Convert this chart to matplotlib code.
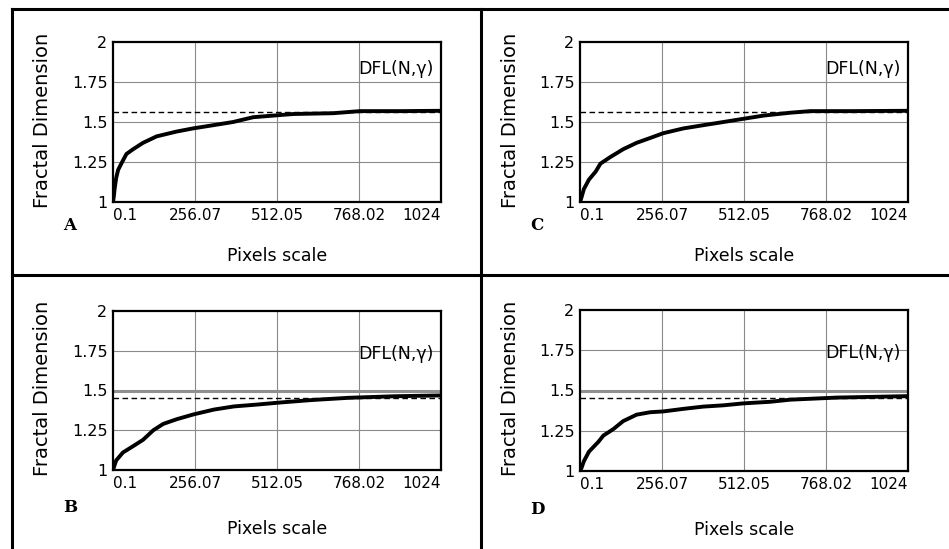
"""Four fractal dimension panels (A, B, C, D) in a framed grid."""
import matplotlib
matplotlib.use("Agg")
import matplotlib.pyplot as plt
from matplotlib import font_manager
from matplotlib.lines import Line2D

W, H = 949, 549

# curve points (pixels scale, fractal dimension)
x_a = [0.1, 3, 5, 10, 16, 26, 42, 63, 94, 136, 198, 250, 313, 375, 438, 500, 563, 688, 771, 900, 1024]
y_a = [1.0, 1.04, 1.08, 1.15, 1.20, 1.24, 1.30, 1.33, 1.37, 1.41, 1.44, 1.46, 1.48, 1.50, 1.53, 1.54, 1.55, 1.555, 1.568, 1.568, 1.57]

x_c = [0.1, 5, 12, 28, 49, 64, 94, 135, 177, 219, 260, 323, 385, 448, 510, 573, 656, 719, 850, 1024]
y_c = [1.0, 1.03, 1.08, 1.14, 1.19, 1.24, 1.28, 1.33, 1.37, 1.40, 1.43, 1.46, 1.48, 1.50, 1.52, 1.54, 1.558, 1.568, 1.568, 1.57]

x_b = [0.1, 5, 10, 31, 63, 94, 126, 157, 200, 252, 315, 378, 441, 525, 620, 735, 882, 1024]
y_b = [1.0, 1.03, 1.06, 1.11, 1.15, 1.19, 1.25, 1.29, 1.32, 1.35, 1.38, 1.40, 1.41, 1.425, 1.44, 1.454, 1.464, 1.469]

x_d = [0.1, 5, 12, 28, 57, 73, 104, 135, 177, 219, 260, 323, 385, 448, 510, 594, 656, 802, 1024]
y_d = [1.0, 1.02, 1.06, 1.12, 1.18, 1.22, 1.26, 1.31, 1.35, 1.365, 1.37, 1.386, 1.40, 1.408, 1.42, 1.43, 1.443, 1.456, 1.465]

dash_level = {"A": 1.565, "C": 1.565, "B": 1.455, "D": 1.455}
gray_level = {"B": 1.5, "D": 1.5}

x_ticks = [0.1, 256.07, 512.05, 768.02, 1024]
x_labels = ["0.1", "256.07", "512.05", "768.02", "1024"]
y_ticks = [1, 1.25, 1.5, 1.75, 2]
y_labels = ["1", "1.25", "1.5", "1.75", "2"]

names = {f.name for f in font_manager.fontManager.ttflist}
narrow = "Liberation Sans Narrow" if "Liberation Sans Narrow" in names else "DejaVu Sans"

fig = plt.figure(figsize=(W / 100, H / 100), dpi=100)
fig.patch.set_facecolor("white")


def px_axes(left, top, right, bottom):
    return fig.add_axes([left / W, 1 - bottom / H, (right - left) / W, (bottom - top) / H])


def fline(xs, ys, lw=2.2):
    fig.add_artist(Line2D([x / W for x in xs], [1 - y / H for y in ys],
                          color="black", lw=lw, transform=fig.transFigure))


panels = [
    ("A", x_a, y_a, (113, 42, 441, 202), 0),
    ("C", x_c, y_c, (580, 42, 908, 202), 0),
    ("B", x_b, y_b, (113, 311, 441, 470), 1),
    ("D", x_d, y_d, (580, 310, 908, 471), 1),
]

for name, xs, ys, box, row in panels:
    ax = px_axes(*box)
    ax.set_xlim(0.1, 1024)
    ax.set_ylim(1, 2)
    for v in x_ticks[1:-1]:
        ax.axvline(v, color="#8a8a8a", lw=0.8, zorder=1)
    for v in y_ticks[1:-1]:
        ax.axhline(v, color="#8a8a8a", lw=0.8, zorder=1)
    if name in gray_level:
        ax.axhline(gray_level[name], color="#909090", lw=2.2, zorder=1)
    ax.axhline(dash_level[name], color="black", lw=1.0, ls=(0, (4, 2.5)), zorder=2)
    ax.plot(xs, ys, color="black", lw=2.8, zorder=3, solid_joinstyle="miter")
    ax.text(1000, 1.83 if row == 0 else 1.73, "DFL(N,\u03b3)",
            fontsize=12.5, family=narrow, va="center", ha="right", zorder=4)

    ax.set_xticks(x_ticks)
    ax.set_xticklabels(x_labels, family=narrow, fontsize=11)
    ax.set_yticks(y_ticks)
    ax.set_yticklabels(y_labels, family=narrow, fontsize=11.5)
    ax.tick_params(length=0, pad=4)
    labs = ax.get_xticklabels()
    labs[0].set_ha("left")
    labs[-1].set_ha("right")
    for s in ax.spines.values():
        s.set_linewidth(1.6)

    left, top, right, bottom = box
    cx = (left + right) / 2
    fig.text(43 / W + (0 if left < 400 else 467 / W), 1 - ((top + bottom) / 2 - 2) / H,
             "Fractal Dimension", rotation=90, ha="center", va="center",
             fontsize=14, family="DejaVu Sans")
    fig.text(cx / W, 1 - (bottom + (54 if row == 0 else 59)) / H, "Pixels scale",
             ha="center", va="center", fontsize=12.5, family=narrow)
    letter_y = bottom + (23 if row == 0 else 38)
    fig.text((left - 43) / W, 1 - letter_y / H, name, ha="center", va="center",
             fontsize=12, family="DejaVu Serif", weight="bold")

# frame lines
fline([12, W], [9, 9])
fline([12, 12], [9, H])
fline([481, 481], [9, H])
fline([12, W], [275, 275])

fig.savefig("out.png", dpi=100)
